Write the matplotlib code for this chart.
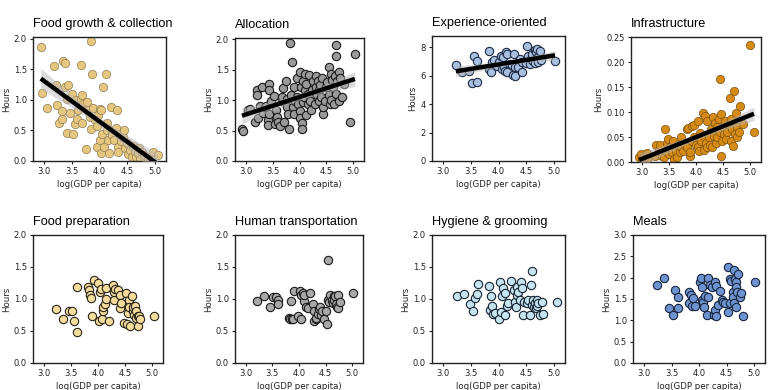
import numpy as np
import matplotlib
matplotlib.use("Agg")
import matplotlib.pyplot as plt

# ---------------- data ----------------
titles = ["Food growth & collection", "Allocation", "Experience-oriented", "Infrastructure",
          "Food preparation", "Human transportation", "Hygiene & grooming", "Meals"]

food_growth_x = [2.94, 2.96, 3.06, 3.18, 3.22, 3.23, 3.27, 3.32, 3.33, 3.34, 3.37, 3.37, 3.42, 3.44, 3.42,
                 3.47, 3.51, 3.52, 3.55, 3.57, 3.60, 3.62, 3.66, 3.67, 3.69, 3.71, 3.68, 3.75, 3.77, 3.78,
                 3.82, 3.84, 3.86, 3.84, 3.89, 3.92, 3.95, 3.96, 3.98, 4.00, 4.02, 4.01, 4.02, 4.05, 4.07,
                 4.08, 4.11, 4.13, 4.14, 4.16, 4.17, 4.20, 4.22, 4.23, 4.27, 4.31, 4.30, 4.33, 4.34, 4.36,
                 4.39, 4.42, 4.45, 4.46, 4.49, 4.52, 4.55, 4.58, 4.61, 4.64, 4.66, 4.69, 4.72, 4.73, 4.77,
                 4.80, 4.87, 4.96, 5.05]
food_growth_y = [1.86, 1.11, 0.87, 1.56, 1.24, 0.92, 0.63, 0.69, 0.82, 1.64, 1.60, 1.21, 1.02, 1.25, 0.46,
                 0.78, 1.10, 0.45, 0.60, 1.00, 0.69, 0.83, 1.01, 1.57, 1.08, 0.93, 0.63, 0.19, 0.97, 0.84,
                 0.72, 1.97, 1.43, 0.52, 0.86, 0.67, 0.23, 0.57, 0.75, 0.85, 0.84, 0.34, 0.13, 0.45, 1.21,
                 0.23, 1.43, 0.62, 0.51, 0.34, 0.13, 0.89, 0.50, 0.43, 0.34, 0.84, 0.54, 0.23, 0.15, 0.45,
                 0.32, 0.40, 0.51, 0.21, 0.29, 0.11, 0.18, 0.07, 0.25, 0.15, 0.07, 0.13, 0.22, 0.04, 0.15,
                 0.10, 0.04, 0.14, 0.10]

allocation_x = [2.93, 2.95, 3.05, 3.08, 3.17, 3.20, 3.21, 3.23, 3.27, 3.30, 3.32, 3.35, 3.38, 3.41, 3.42,
                3.44, 3.43, 3.44, 3.47, 3.52, 3.54, 3.56, 3.59, 3.60, 3.64, 3.67, 3.68, 3.70, 3.72, 3.74,
                3.76, 3.77, 3.79, 3.81, 3.82, 3.84, 3.86, 3.88, 3.89, 3.90, 3.92, 3.95, 3.96, 3.98, 4.00,
                4.01, 4.02, 4.00, 4.04, 4.05, 4.06, 4.07, 4.08, 4.10, 4.10, 4.12, 4.13, 4.15, 4.16, 4.18,
                4.20, 4.22, 4.24, 4.26, 4.28, 4.30, 4.31, 4.32, 4.34, 4.36, 4.37, 4.38, 4.40, 4.42, 4.43,
                4.44, 4.48, 4.49, 4.52, 4.54, 4.55, 4.56, 4.58, 4.58, 4.61, 4.62, 4.64, 4.66, 4.67, 4.67,
                4.68, 4.70, 4.73, 4.74, 4.76, 4.79, 4.82, 4.94, 5.03]
allocation_y = [0.52, 0.50, 0.84, 0.86, 0.64, 1.17, 1.08, 0.70, 0.90, 1.21, 0.79, 0.89, 0.91, 0.68, 0.59,
                1.27, 1.17, 0.78, 0.99, 1.06, 0.60, 0.84, 0.73, 0.64, 0.57, 0.99, 1.05, 1.20, 0.64, 1.32,
                0.89, 1.02, 0.78, 0.52, 1.93, 1.08, 1.63, 0.89, 1.22, 0.78, 0.99, 1.37, 1.05, 0.94, 0.82,
                1.46, 1.21, 0.71, 0.62, 0.52, 1.32, 0.97, 1.05, 1.43, 1.16, 0.76, 1.27, 0.94, 1.10, 1.42,
                0.99, 0.83, 1.16, 1.32, 0.94, 1.39, 1.22, 1.08, 1.32, 0.99, 1.16, 1.24, 1.05, 1.36, 0.77,
                0.89, 0.99, 1.22, 1.29, 1.54, 1.08, 0.94, 1.43, 1.00, 1.33, 1.21, 0.94, 1.40, 1.90, 1.73,
                1.10, 1.32, 1.46, 0.99, 1.37, 1.05, 1.27, 0.64, 1.76]

experience_x = [3.23, 3.35, 3.46, 3.53, 3.56, 3.61, 3.62, 3.82, 3.83, 3.86, 3.89, 3.92, 3.98, 4.01, 4.04,
                4.06, 4.08, 4.10, 4.12, 4.14, 4.15, 4.15, 4.20, 4.24, 4.27, 4.28, 4.30, 4.29, 4.35, 4.39,
                4.42, 4.43, 4.50, 4.51, 4.54, 4.57, 4.59, 4.61, 4.63, 4.65, 4.66, 4.68, 4.70, 4.71, 4.72,
                4.75, 4.77, 5.02]
experience_y = [6.76, 6.25, 6.36, 5.48, 7.41, 7.02, 5.55, 7.72, 6.48, 6.25, 6.95, 7.11, 6.71, 6.95, 7.41,
                6.48, 7.30, 6.60, 6.32, 7.65, 6.29, 7.53, 6.83, 6.78, 6.08, 7.53, 6.60, 6.01, 6.64, 7.18,
                6.25, 6.95, 6.88, 8.11, 7.41, 6.83, 7.18, 7.53, 7.06, 7.81, 6.88, 7.65, 7.88, 7.30, 6.95,
                7.76, 7.11, 7.02]

infra_x = [2.95, 2.98, 3.00, 3.04, 3.10, 3.12, 3.24, 3.27, 3.31, 3.34, 3.37, 3.40, 3.42, 3.45, 3.46,
           3.48, 3.51, 3.52, 3.55, 3.58, 3.60, 3.63, 3.64, 3.67, 3.70, 3.72, 3.73, 3.76, 3.80, 3.83,
           3.84, 3.86, 3.89, 3.89, 3.92, 3.93, 3.96, 3.97, 4.00, 4.03, 4.04, 4.06, 4.08, 4.09, 4.12,
           4.14, 4.15, 4.16, 4.18, 4.20, 4.21, 4.24, 4.26, 4.28, 4.30, 4.31, 4.33, 4.35, 4.36, 4.38,
           4.39, 4.42, 4.44, 4.45, 4.46, 4.46, 4.48, 4.51, 4.52, 4.54, 4.56, 4.58, 4.60, 4.62, 4.64,
           4.65, 4.67, 4.69, 4.70, 4.72, 4.73, 4.75, 4.76, 4.79, 4.82, 4.87, 4.99, 5.07]
infra_y = [0.010, 0.017, 0.007, 0.012, 0.018, 0.009, 0.012, 0.035, 0.025, 0.035, 0.012, 0.010, 0.066, 0.022, 0.039,
           0.046, 0.017, 0.030, 0.020, 0.043, 0.007, 0.023, 0.010, 0.035, 0.020, 0.050, 0.030, 0.022, 0.035, 0.030,
           0.066, 0.068, 0.012, 0.020, 0.072, 0.043, 0.075, 0.050, 0.035, 0.030, 0.082, 0.022, 0.058, 0.043, 0.099,
           0.025, 0.053, 0.093, 0.039, 0.030, 0.083, 0.050, 0.035, 0.066, 0.030, 0.090, 0.053, 0.078, 0.039, 0.070,
           0.050, 0.086, 0.060, 0.166, 0.013, 0.096, 0.043, 0.070, 0.056, 0.083, 0.046, 0.060, 0.076, 0.129, 0.043,
           0.086, 0.066, 0.032, 0.143, 0.056, 0.099, 0.070, 0.050, 0.060, 0.113, 0.076, 0.235, 0.060]

food_prep_x = [3.23, 3.35, 3.46, 3.52, 3.56, 3.61, 3.62, 3.82, 3.84, 3.86, 3.87, 3.89, 3.93, 4.00, 4.02,
               4.04, 4.05, 4.07, 4.09, 4.10, 4.12, 4.14, 4.15, 4.20, 4.28, 4.29, 4.30, 4.32, 4.36, 4.40,
               4.41, 4.42, 4.48, 4.52, 4.54, 4.55, 4.57, 4.58, 4.59, 4.62, 4.64, 4.65, 4.67, 4.68, 4.70,
               4.71, 4.73, 4.74, 4.76, 4.78, 5.03]
food_prep_y = [0.84, 0.69, 0.81, 0.82, 0.65, 0.48, 1.18, 1.19, 1.14, 1.06, 1.02, 0.74, 1.30, 1.25, 0.66,
               1.11, 1.15, 0.69, 0.82, 0.88, 0.92, 1.00, 1.17, 0.66, 1.22, 0.99, 1.11, 1.15, 1.14, 1.06,
               0.86, 0.94, 0.63, 1.09, 0.61, 0.78, 0.99, 0.88, 0.58, 1.05, 0.81, 0.88, 0.75, 0.89, 0.70,
               0.81, 0.74, 0.58, 0.73, 0.69, 0.73]

transport_x = [3.21, 3.34, 3.45, 3.51, 3.56, 3.60, 3.60, 3.81, 3.83, 3.85, 3.86, 3.89, 3.91, 3.99, 4.02,
               4.04, 4.04, 4.07, 4.09, 4.10, 4.13, 4.16, 4.20, 4.26, 4.28, 4.29, 4.31, 4.32, 4.35, 4.37,
               4.39, 4.42, 4.44, 4.47, 4.50, 4.52, 4.54, 4.55, 4.56, 4.59, 4.61, 4.63, 4.65, 4.66, 4.67,
               4.70, 4.72, 4.73, 4.74, 4.76, 5.02]
transport_y = [0.97, 1.04, 0.87, 1.03, 1.03, 0.99, 0.92, 0.70, 0.69, 0.97, 0.69, 0.69, 1.13, 0.73, 1.12,
               1.06, 0.69, 1.09, 0.97, 1.06, 0.87, 0.86, 1.10, 0.92, 0.81, 0.65, 0.68, 0.70, 0.76, 0.84,
               0.88, 0.75, 0.81, 0.68, 0.81, 0.61, 0.98, 1.61, 0.95, 1.06, 0.99, 0.94, 1.04, 0.98, 1.04,
               0.92, 0.87, 0.86, 1.06, 0.96, 1.10]

hygiene_x = [3.25, 3.37, 3.48, 3.54, 3.58, 3.62, 3.63, 3.83, 3.84, 3.87, 3.88, 3.90, 3.93, 4.01, 4.03,
             4.05, 4.07, 4.09, 4.11, 4.12, 4.15, 4.17, 4.22, 4.28, 4.30, 4.31, 4.33, 4.34, 4.36, 4.39,
             4.40, 4.43, 4.45, 4.46, 4.51, 4.54, 4.57, 4.58, 4.60, 4.61, 4.63, 4.64, 4.66, 4.67, 4.69,
             4.70, 4.72, 4.75, 4.78, 4.81, 5.05]
hygiene_y = [1.05, 1.08, 0.92, 0.82, 1.02, 1.08, 1.24, 1.21, 0.83, 1.05, 0.89, 0.77, 0.78, 0.69, 1.27,
             0.79, 1.05, 1.17, 1.09, 0.75, 0.89, 0.94, 1.28, 1.14, 0.96, 0.88, 1.18, 1.06, 1.11, 0.99,
             1.26, 1.17, 0.75, 0.96, 0.94, 0.98, 0.75, 1.22, 0.91, 1.43, 0.99, 0.88, 0.94, 0.86, 0.99,
             0.89, 0.94, 0.75, 0.96, 0.77, 0.96]

meals_x = [3.23, 3.36, 3.46, 3.53, 3.56, 3.61, 3.62, 3.82, 3.82, 3.85, 3.87, 3.89, 3.93, 4.01, 4.04,
           4.05, 4.05, 4.07, 4.09, 4.11, 4.14, 4.16, 4.17, 4.20, 4.24, 4.27, 4.29, 4.29, 4.30, 4.31,
           4.34, 4.38, 4.41, 4.44, 4.47, 4.52, 4.53, 4.56, 4.57, 4.59, 4.61, 4.62, 4.63, 4.64, 4.65,
           4.67, 4.68, 4.68, 4.69, 4.71, 4.74, 4.77, 4.80, 5.02]
meals_y = [1.83, 2.00, 1.30, 1.13, 1.72, 1.55, 1.30, 1.67, 1.40, 1.59, 1.34, 1.52, 1.34, 1.90, 2.00,
           1.79, 1.48, 1.44, 1.31, 1.57, 1.13, 2.00, 1.55, 1.83, 1.77, 1.13, 1.90, 1.24, 1.09, 1.81,
           1.36, 1.69, 1.48, 1.44, 1.41, 2.25, 1.20, 1.41, 1.98, 1.92, 1.67, 1.55, 1.41, 2.19, 1.98,
           1.90, 1.77, 1.31, 1.67, 2.09, 1.55, 1.63, 1.10, 1.90]

xs = [food_growth_x, allocation_x, experience_x, infra_x, food_prep_x, transport_x, hygiene_x, meals_x]
ys = [food_growth_y, allocation_y, experience_y, infra_y, food_prep_y, transport_y, hygiene_y, meals_y]
show_fit = [True, True, True, True, False, False, False, False]

x_ticks = [3.0, 3.5, 4.0, 4.5, 5.0]
y_ticks = [[0.0, 0.5, 1.0, 1.5, 2.0], [0.0, 0.5, 1.0, 1.5, 2.0], [0, 2, 4, 6, 8],
           [0.00, 0.05, 0.10, 0.15, 0.20, 0.25],
           [0.0, 0.5, 1.0, 1.5, 2.0], [0.0, 0.5, 1.0, 1.5, 2.0], [0.0, 0.5, 1.0, 1.5, 2.0],
           [0.0, 0.5, 1.0, 1.5, 2.0, 2.5, 3.0]]
y_tick_fmt = ["%.1f", "%.1f", "%d", "%.2f", "%.1f", "%.1f", "%.1f", "%.1f"]
y_lims = [(0, 2.03), (0, 2.02), (0, 8.8), (0, 0.25), (0, 2.0), (0, 2.0), (0, 2.0), (0, 3.0)]

# ---------------- style ----------------
face_colors = ["#e6c780", "#9a9a9a", "#a9bfe0", "#d68b16", "#f3dc9c", "#a8a8a8", "#c6e4f0", "#6d94d1"]
edge_colors = ["#8f7d55", "#1a1a1a", "#1c2a44", "#7a5212", "#2a2418", "#1a1a1a", "#152230", "#17253d"]
edge_widths = [0.5, 0.8, 0.8, 0.5, 0.8, 0.8, 0.8, 0.8]

W, H = 768, 390
# axes boxes in pixels: (left, top, right, bottom)
boxes = [(33, 37, 166, 161), (235, 38, 364, 161), (432, 36, 565, 161), (631, 37, 761, 162),
         (33, 235, 163, 363), (235, 235, 363, 363), (432, 235, 565, 363), (633, 235, 765, 363)]

fig = plt.figure(figsize=(W / 100, H / 100), dpi=100)

for i in range(8):
    l, t, r, b = boxes[i]
    ax = fig.add_axes([l / W, 1 - b / H, (r - l) / W, (b - t) / H])
    x = np.array(xs[i])
    y = np.array(ys[i])
    ax.scatter(x, y, s=36, facecolor=face_colors[i], edgecolor=edge_colors[i],
               linewidth=edge_widths[i], zorder=2)
    if show_fit[i]:
        n = len(x)
        b1, b0 = np.polyfit(x, y, 1)
        grid = np.linspace(x.min(), x.max(), 100)
        pred = b0 + b1 * grid
        resid = y - (b0 + b1 * x)
        s = np.sqrt(np.sum(resid ** 2) / (n - 2))
        sxx = np.sum((x - x.mean()) ** 2)
        se = s * np.sqrt(1.0 / n + (grid - x.mean()) ** 2 / sxx)
        ax.fill_between(grid, pred - 1.98 * se, pred + 1.98 * se, color="#b8b8b8",
                        alpha=0.5, linewidth=0, zorder=3)
        ax.plot(grid, pred, color="black", linewidth=3.2, zorder=4, solid_capstyle="butt")
    ax.set_xlim(2.8, 5.2)
    ax.set_ylim(*y_lims[i])
    ax.set_xticks(x_ticks)
    ax.set_xticklabels(["%.1f" % v for v in x_ticks])
    ax.set_yticks(y_ticks[i])
    ax.set_yticklabels([y_tick_fmt[i] % v for v in y_ticks[i]])
    ax.tick_params(labelsize=6, length=2.5, width=0.8, pad=2, colors="#222222")
    for sp in ax.spines.values():
        sp.set_linewidth(1.0)
        sp.set_color("#222222")
    ax.set_xlabel("log(GDP per capita)", fontsize=6.2, labelpad=3, color="#222222")
    ax.set_ylabel("Hours", fontsize=6.2, labelpad=2, color="#222222")
    ax.set_title(titles[i], loc="left", fontsize=9.2, family="Liberation Sans", pad=7)

fig.savefig("out.png", dpi=100)
